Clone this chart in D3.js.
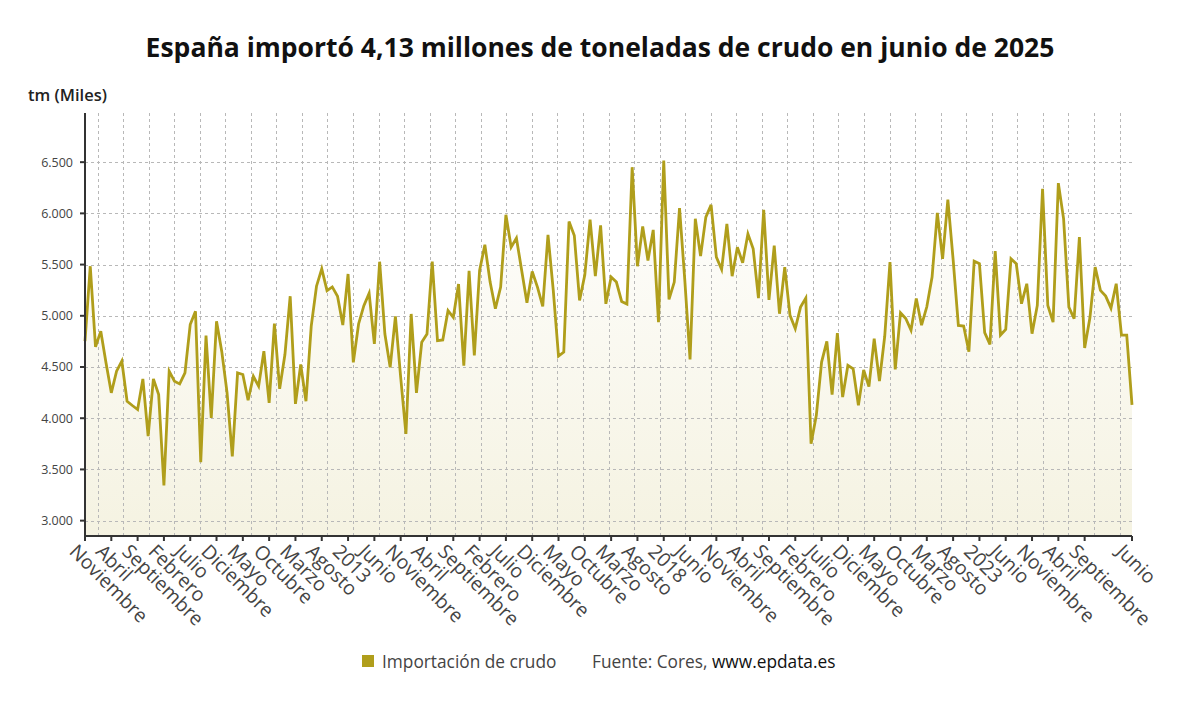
<!DOCTYPE html>
<html>
<head>
<meta charset="utf-8">
<script src="https://cdn.jsdelivr.net/npm/d3@7"></script>
<style>
  body { margin: 0; background: #fff; }
  svg { font-family: "Open Sans", "Noto Sans", sans-serif; }
</style>
</head>
<body>
<div id="chart"></div>
<script>
(function () {

    // importación mensual de crudo, miles de tm, nov 2008 - jun 2025
    const values = [
        4752, 5484, 4697, 4850, 4540, 4248, 4459, 4557, 4166, 4124,
        4085, 4384, 3825, 4384, 4231, 3343, 4459, 4361, 4335, 4443,
        4914, 5045, 3571, 4807, 4004, 4947, 4650, 4250, 3628, 4443,
        4427, 4176, 4410, 4313, 4654, 4150, 4924, 4287, 4622, 5191,
        4140, 4524, 4166, 4900, 5289, 5458, 5246, 5282, 5191, 4910,
        5408, 4546, 4920, 5099, 5219, 4725, 5528, 4822, 4497, 4995,
        4400, 3847, 5018, 4247, 4741, 4822, 5528, 4757, 4764, 5050,
        4985, 5310, 4513, 5440, 4613, 5443, 5693, 5329, 5069, 5280,
        5986, 5670, 5758, 5443, 5127, 5433, 5280, 5091, 5791, 5250,
        4607, 4646, 5921, 5784, 5150, 5400, 5940, 5387, 5882, 5117,
        5378, 5329, 5140, 5114, 6451, 5484, 5872, 5540, 5839, 4938,
        6516, 5160, 5329, 6051, 5350, 4574, 5947, 5583, 5963, 6083,
        5573, 5453, 5898, 5387, 5670, 5517, 5800, 5654, 5173, 6035,
        5156, 5686, 5020, 5475, 5004, 4874, 5085, 5173, 3751, 4028,
        4548, 4750, 4230, 4831, 4207, 4516, 4483, 4125, 4471, 4308,
        4776, 4363, 4800, 5525, 4477, 5030, 4974, 4860, 5169, 4909,
        5088, 5378, 6005, 5556, 6135, 5550, 4906, 4900, 4649, 5534,
        5508, 4835, 4721, 5632, 4812, 4867, 5557, 5508, 5118, 5313,
        4825, 5101, 6240, 5101, 4938, 6295, 5947, 5085, 4971, 5768,
        4685, 4980, 5475, 5248, 5192, 5075, 5313, 4812, 4812, 4130
    ];

    // posiciones (índice de mes) y textos de las etiquetas del eje x
    const tickIndex = [0, 5, 10, 15, 20, 25, 30, 35, 40, 45, 50, 55, 60, 65, 70, 75, 80, 85, 90, 95,
        100, 105, 110, 115, 120, 125, 130, 135, 140, 145, 150, 155, 160, 165, 170, 175, 180, 185, 190, 199];
    const tickLabels = ['Noviembre', 'Abril', 'Septiembre', 'Febrero', 'Julio', 'Diciembre', 'Mayo', 'Octubre',
        'Marzo', 'Agosto', '2013', 'Junio', 'Noviembre', 'Abril', 'Septiembre', 'Febrero', 'Julio', 'Diciembre',
        'Mayo', 'Octubre', 'Marzo', 'Agosto', '2018', 'Junio', 'Noviembre', 'Abril', 'Septiembre', 'Febrero',
        'Julio', 'Diciembre', 'Mayo', 'Octubre', 'Marzo', 'Agosto', '2023', 'Junio', 'Noviembre', 'Abril',
        'Septiembre', 'Junio'];

    const yTicks = [3000, 3500, 4000, 4500, 5000, 5500, 6000, 6500];

    const width = 1200;
    const height = 705;
    const left = 85, right = 1132, top = 113, bottom = 536;
    const lineColor = '#b09e1b';

    const svg = d3.select('#chart')
        .append('svg')
        .attr('width', width)
        .attr('height', height);

    const x = d3.scaleLinear().domain([0, values.length - 1]).range([left, right]);
    const y = d3.scaleLinear().domain([2850, 6980]).range([bottom, top]);

    const fmt = d3.formatLocale({ decimal: ',', thousands: '.', grouping: [3], currency: ['', '€'] }).format(',.0f');

    const grad = svg.append('defs').append('linearGradient')
        .attr('id', 'fillGrad')
        .attr('x1', 0).attr('x2', 0).attr('y1', 0).attr('y2', 1);
    grad.append('stop').attr('offset', '0%').attr('stop-color', lineColor).attr('stop-opacity', 0.0);
    grad.append('stop').attr('offset', '100%').attr('stop-color', lineColor).attr('stop-opacity', 0.13);

    // área bajo la línea
    const area = d3.area()
        .x((d, i) => x(i))
        .y0(bottom)
        .y1(d => y(d));

    svg.append('path')
        .datum(values)
        .attr('d', area)
        .attr('fill', 'url(#fillGrad)');

    // rejilla
    const grid = svg.append('g')
        .attr('stroke', '#b8b8b8')
        .attr('stroke-width', 1)
        .attr('stroke-dasharray', '3,3');

    grid.selectAll('line.h')
        .data(yTicks)
        .join('line')
        .attr('class', 'h')
        .attr('x1', left).attr('x2', right)
        .attr('y1', d => Math.round(y(d)) + 0.5)
        .attr('y2', d => Math.round(y(d)) + 0.5);

    const vStep = 25.55;
    grid.selectAll('line.v')
        .data(d3.range(left + 12.5, right, vStep))
        .join('line')
        .attr('class', 'v')
        .attr('x1', d => Math.round(d) + 0.5).attr('x2', d => Math.round(d) + 0.5)
        .attr('y1', top).attr('y2', bottom);

    // línea
    const line = d3.line()
        .x((d, i) => x(i))
        .y(d => y(d));

    svg.append('path')
        .datum(values)
        .attr('d', line)
        .attr('fill', 'none')
        .attr('stroke', lineColor)
        .attr('stroke-width', 2.8)
        .attr('stroke-linejoin', 'miter');

    // eje y
    const yAxis = svg.append('g');
    yAxis.append('line')
        .attr('x1', left).attr('x2', left)
        .attr('y1', top).attr('y2', bottom + 1)
        .attr('stroke', '#333').attr('stroke-width', 2);

    yAxis.selectAll('line.tick')
        .data(yTicks)
        .join('line')
        .attr('class', 'tick')
        .attr('x1', left - 5).attr('x2', left)
        .attr('y1', d => y(d)).attr('y2', d => y(d))
        .attr('stroke', '#333').attr('stroke-width', 2);

    yAxis.selectAll('text')
        .data(yTicks)
        .join('text')
        .attr('x', left - 12)
        .attr('y', d => y(d))
        .attr('dy', '0.35em')
        .attr('text-anchor', 'end')
        .attr('font-size', 12.5)
        .attr('fill', '#444')
        .text(d => fmt(d));

    // eje x
    const xAxis = svg.append('g');
    xAxis.append('line')
        .attr('x1', left - 1).attr('x2', right)
        .attr('y1', bottom).attr('y2', bottom)
        .attr('stroke', '#333').attr('stroke-width', 2);

    xAxis.selectAll('line.tick')
        .data(tickIndex)
        .join('line')
        .attr('class', 'tick')
        .attr('x1', d => x(d)).attr('x2', d => x(d))
        .attr('y1', bottom).attr('y2', bottom + 5)
        .attr('stroke', '#333').attr('stroke-width', 2);

    xAxis.selectAll('text')
        .data(tickIndex)
        .join('text')
        .attr('transform', d => `translate(${x(d) - 7},${bottom + 7}) rotate(45)`)
        .attr('dy', '0.7em')
        .attr('text-anchor', 'start')
        .attr('font-size', 19.5)
        .attr('fill', '#444')
        .text((d, i) => tickLabels[i]);

    // títulos
    svg.append('text')
        .attr('x', width / 2)
        .attr('y', 57)
        .attr('text-anchor', 'middle')
        .attr('font-size', 26.5)
        .attr('font-weight', 'bold')
        .attr('fill', '#111')
        .text('España importó 4,13 millones de toneladas de crudo en junio de 2025');

    svg.append('text')
        .attr('x', 28)
        .attr('y', 101)
        .attr('font-size', 16.5)
        .attr('font-weight', 600)
        .attr('fill', '#222')
        .text('tm (Miles)');

    // leyenda
    const legend = svg.append('g');
    legend.append('rect')
        .attr('x', 362).attr('y', 655)
        .attr('width', 12).attr('height', 12)
        .attr('fill', lineColor);

    legend.append('text')
        .attr('x', 382).attr('y', 668)
        .attr('font-size', 17.3)
        .attr('fill', '#444')
        .text('Importación de crudo');

    const src = legend.append('text')
        .attr('x', 592).attr('y', 668)
        .attr('font-size', 17.3)
        .attr('fill', '#444');
    src.append('tspan').text('Fuente: Cores, ');
    src.append('tspan').attr('fill', '#111').text('www.epdata.es');

})();
</script>
</body>
</html>
